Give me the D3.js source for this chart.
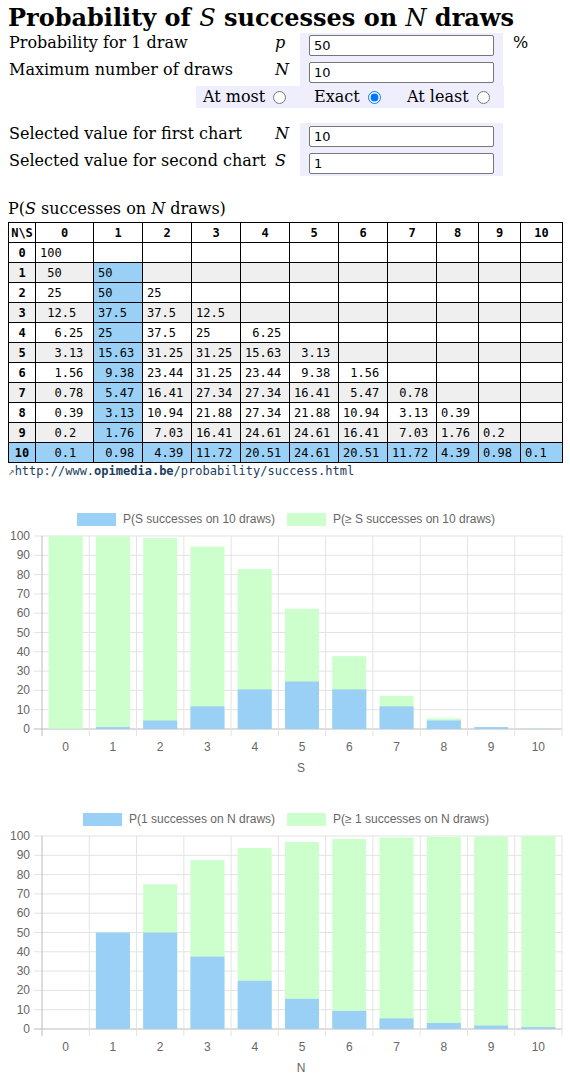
<!DOCTYPE html>
<html><head><meta charset="utf-8">
<script src="https://cdn.jsdelivr.net/npm/d3@7"></script>
<style>
body{margin:0;width:570px;height:1080px;position:relative;font-family:"DejaVu Serif",serif;background:#fff;overflow:hidden}
.abs{position:absolute}
.lbl{font-size:16px;color:#000}
.box{background:#eeeefc}
input.num{position:absolute;width:185px;height:20px;border:1px solid #767676;border-radius:2px;font:13px "DejaVu Sans",sans-serif;padding:0 0 0 4px;box-sizing:border-box}
table{border-collapse:collapse;font:12px "DejaVu Sans Mono",monospace;table-layout:fixed}
td,th{border:1px solid #000;height:19px;padding:0 0 0 4px;white-space:pre;text-align:left}
th{text-align:center;padding:0}
tr.odd td,tr.odd th{background:#efefef}
td.hl,th.hl{background:#9ad0f5 !important}
.link{font:12px "DejaVu Sans Mono",monospace;color:#1a3d5c}
</style></head><body>
<div class="abs" style="left:8px;top:3px;font-size:24px;font-weight:bold">Probability of <i style="font-weight:normal">S</i> successes on <i style="font-weight:normal">N</i> draws</div>
<div id="form"></div>
<div class="abs lbl" style="left:8px;top:199px">P(<i>S</i> successes on <i>N</i> draws)</div>
<div class="abs" style="left:8px;top:222px"><table id="tbl"></table></div>
<div class="abs link" style="left:8px;top:464px"><span style="color:#777;font-size:11px">&#x2197;</span>http://www.<b>opimedia.be</b>/probability/success.html</div>
<svg id="c1" class="abs" style="left:0;top:500px" width="570" height="280"></svg>
<svg id="c2" class="abs" style="left:0;top:800px" width="570" height="280"></svg>
<script>
// table data P(S successes on N draws), rows N=0..10
var tableRows = [
  ["100"],
  ["50","50"],
  ["25","50","25"],
  ["12.5","37.5","37.5","12.5"],
  ["6.25","25","37.5","25","6.25"],
  ["3.13","15.63","31.25","31.25","15.63","3.13"],
  ["1.56","9.38","23.44","31.25","23.44","9.38","1.56"],
  ["0.78","5.47","16.41","27.34","27.34","16.41","5.47","0.78"],
  ["0.39","3.13","10.94","21.88","27.34","21.88","10.94","3.13","0.39"],
  ["0.2","1.76","7.03","16.41","24.61","24.61","16.41","7.03","1.76","0.2"],
  ["0.1","0.98","4.39","11.72","20.51","24.61","20.51","11.72","4.39","0.98","0.1"]
];
var colWidths = [27,58,49,49,49,49,49,49,49,42,42,42];
var categories = ["0","1","2","3","4","5","6","7","8","9","10"];
// chart 1: N = 10
var exact1 = [0.1,0.98,4.39,11.72,20.51,24.61,20.51,11.72,4.39,0.98,0.1];
var atLeast1 = [100,99.9,98.93,94.53,82.81,62.3,37.7,17.19,5.47,1.07,0.1];
// chart 2: S = 1
var exact2 = [0,50,50,37.5,25,15.63,9.38,5.47,3.13,1.76,0.98];
var atLeast2 = [0,50,75,87.5,93.75,96.88,98.44,99.22,99.61,99.8,99.9];
var yTicks = [0,10,20,30,40,50,60,70,80,90,100];

// form
var form = d3.select("#form");
[[300,33,203,54],[196,86,308,22],[300,123,203,53]].forEach(b => {
  form.append("div").attr("class","abs box").style("left",b[0]+"px").style("top",b[1]+"px").style("width",b[2]+"px").style("height",b[3]+"px");
});
var rows = [
  ["Probability for 1 draw","p","50",34],
  ["Maximum number of draws","N","10",61],
  ["Selected value for first chart","N","10",125],
  ["Selected value for second chart","S","1",152]
];
rows.forEach(r => {
  form.append("div").attr("class","abs lbl").style("left","9px").style("top",(r[3]-1)+"px").style("white-space","nowrap").text(r[0]);
  form.append("div").attr("class","abs lbl").style("left","275px").style("top",(r[3]-1)+"px").style("font-style","italic").text(r[1]);
  form.append("input").attr("class","num").attr("type","number").attr("value",r[2]).style("left","309px").style("top",(r[3]+1)+"px").style("height","21px");
});
form.append("div").attr("class","abs lbl").style("left","513px").style("top","33px").text("%");
[["At most",203,false],["Exact",314,true],["At least",407,false]].forEach(r => {
  var d = form.append("div").attr("class","abs lbl").style("left",r[1]+"px").style("top","87px").style("white-space","nowrap");
  d.append("span").text(r[0]);
  d.append("input").attr("type","radio").attr("name","mode").property("checked",r[2]).style("margin","0 0 0 8px").style("vertical-align","-2px");
});

// table
var tbl = d3.select("#tbl");
var cg = tbl.append("colgroup");
colWidths.forEach(w => cg.append("col").style("width",w+"px"));
var head = tbl.append("tr");
head.append("th").text("N\\S");
categories.forEach(c => head.append("th").text(c));
// integer width per column for decimal alignment
var intW = categories.map((c,j) => d3.max(tableRows, r => r[j] ? r[j].split(".")[0].length : 0));
tableRows.forEach((r,i) => {
  var tr = tbl.append("tr").attr("class", i%2 ? "odd" : "");
  tr.append("th").attr("class", i==10 ? "hl" : null).text(i);
  categories.forEach((c,j) => {
    var v = r[j];
    var txt = "";
    if (v) { var ip = v.split(".")[0]; txt = " ".repeat(intW[j]-ip.length) + v; }
    tr.append("td").attr("class", (v && j==1 && i>0) || i==10 ? "hl" : null).text(txt);
  });
});

function chart(id, exact, atLeast, l1, l2, title, start) {
  var svg = d3.select(id);
  var x = d3.scaleBand().domain(categories).range([42,562]).paddingInner(0.28).paddingOuter(0.14);
  var xg = d3.scaleLinear().domain([0,11]).range([42,562]);
  var y = d3.scaleLinear().domain([0,100]).range([229,36]);
  var g = svg.append("g").attr("font-family","Liberation Sans, Arial").attr("font-size",12).attr("fill","#666");
  yTicks.forEach(t => {
    g.append("line").attr("x1",34).attr("x2",562).attr("y1",y(t)).attr("y2",y(t)).attr("stroke", t==0 ? "#bbb" : "#e3e3e3");
    g.append("text").attr("x",30).attr("y",y(t)+4).attr("text-anchor","end").text(t);
  });
  d3.range(12).forEach(i => {
    g.append("line").attr("x1",xg(i)).attr("x2",xg(i)).attr("y1",36).attr("y2",236).attr("stroke", i==0 ? "#bbb" : "#e3e3e3");
  });
  categories.forEach((c,i) => {
    g.append("text").attr("x",x(c)+x.bandwidth()/2).attr("y",251).attr("text-anchor","middle").text(c);
  });
  g.append("text").attr("x",301).attr("y",272).attr("text-anchor","middle").text(title);
  svg.selectAll("rect.g").data(atLeast).join("rect").attr("x",(d,i)=>x(categories[i])).attr("width",x.bandwidth())
    .attr("y",d=>y(d)).attr("height",d=>y(0)-y(d)).attr("fill","#ccffcc");
  svg.selectAll("rect.b").data(exact).join("rect").attr("x",(d,i)=>x(categories[i])).attr("width",x.bandwidth())
    .attr("y",d=>y(d)).attr("height",d=>y(0)-y(d)).attr("fill","#9ad0f5");
  var lg = svg.append("g").attr("font-family","Liberation Sans, Arial").attr("font-size",12).attr("fill","#666");
  lg.append("rect").attr("x",start).attr("y",13).attr("width",39).attr("height",13).attr("fill","#9ad0f5");
  var t1 = lg.append("text").attr("x",start+46).attr("y",23).text(l1);
  var s2 = start+46+t1.node().getComputedTextLength()+12;
  lg.append("rect").attr("x",s2).attr("y",13).attr("width",39).attr("height",13).attr("fill","#ccffcc");
  lg.append("text").attr("x",s2+46).attr("y",23).text(l2);
}
chart("#c1", exact1, atLeast1, "P(S successes on 10 draws)", "P(\u2265 S successes on 10 draws)", "S", 77);
chart("#c2", exact2, atLeast2, "P(1 successes on N draws)", "P(\u2265 1 successes on N draws)", "N", 83);
</script></body></html>
